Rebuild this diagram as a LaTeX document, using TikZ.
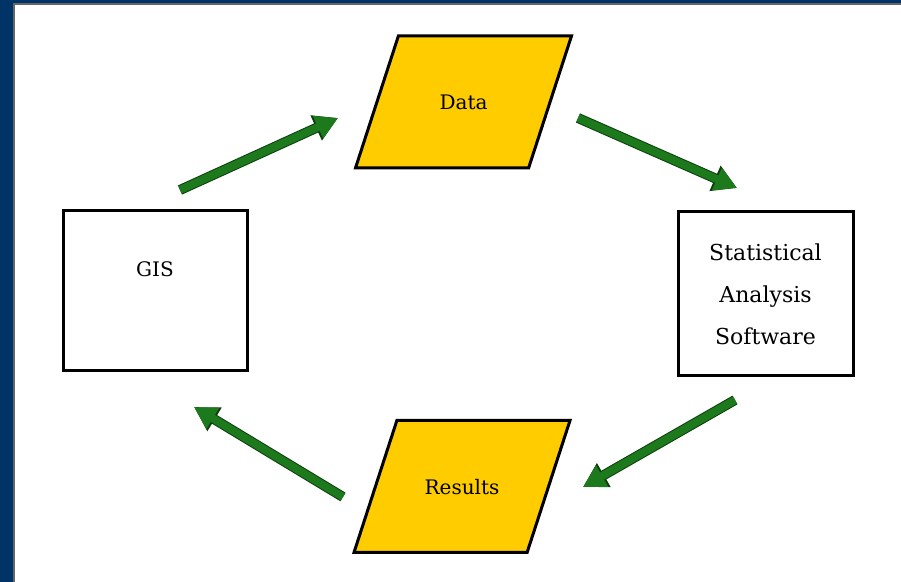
\documentclass[tikz,border=0pt]{standalone}
\usepackage{fontspec}
\setmainfont{DejaVu Serif}
\usetikzlibrary{arrows.meta, shapes.geometric}

\definecolor{slideblue}{RGB}{0,51,102}
\definecolor{datayellow}{RGB}{255,204,0}
\definecolor{arrowgreen}{RGB}{28,122,28}
\definecolor{arrowdark}{RGB}{14,62,14}

\tikzset{
  box/.style={draw, line width=1.5pt, fill=white, align=center,
    font=\fontsize{10}{21}\selectfont},
  store/.style={trapezium, trapezium left angle=72, trapezium right angle=108,
    trapezium stretches body=true, draw, line width=1.5pt, fill=datayellow,
    text height=9pt, text depth=1pt, inner ysep=28pt,
    minimum width=108pt, font=\fontsize{10}{21}\selectfont},
  flow/.style={line width=4pt, arrowgreen, -{Triangle[length=11pt,width=11.5pt]},
    preaction={draw=arrowdark, line width=5pt, -{Triangle[length=12pt,width=13pt]}}}
}

\begin{document}
\begin{tikzpicture}[x=0.5pt, y=-0.5pt]

\useasboundingbox (0,0) rectangle (901,582);
\fill[slideblue] (0,0) rectangle (901,582);
\filldraw[fill=white, draw=black!60, line width=1pt] (13.5,4) rectangle (903,584);

\node[box, minimum width=92pt, minimum height=80pt] (gis) at (155,290.5) {GIS\\~};

\node[store] (data) at (463.5,102) {Data};

\node[box, minimum width=87.5pt, minimum height=82pt,
  font=\fontsize{11}{21}\selectfont] (stats) at (765.5,294)
  {Statistical\\Analysis\\Software};

\node[store] (results) at (462,486.5) {Results};

\coordinate (gisout) at (180,190);
\coordinate (datain) at (338,118);
\coordinate (dataout) at (578,118);
\coordinate (statsin) at (737,188);
\coordinate (statsout) at (735,400);
\coordinate (resultsin) at (583,487);
\coordinate (resultsout) at (343,497);
\coordinate (gisin) at (194,407);

\draw[flow] (gisout) -- (datain);
\draw[flow] (dataout) -- (statsin);
\draw[flow] (statsout) -- (resultsin);
\draw[flow] (resultsout) -- (gisin);

\end{tikzpicture}
\end{document}
